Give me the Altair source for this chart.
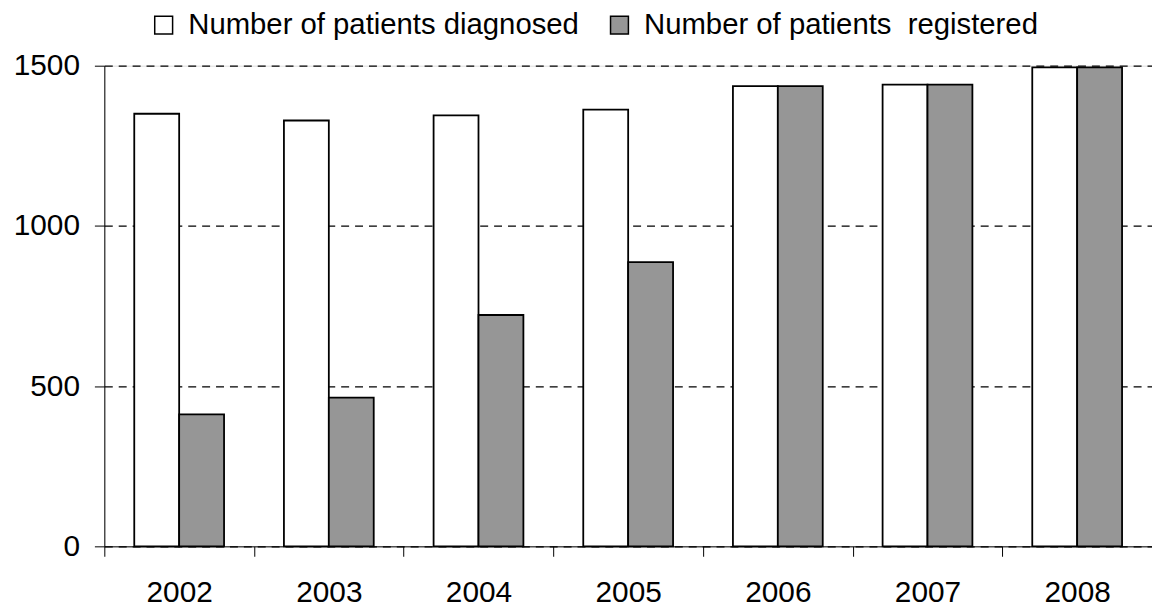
import altair as alt
import pandas as pd

years = ["2002", "2003", "2004", "2005", "2006", "2007", "2008"]
diagnosed = [1350, 1329, 1345, 1363, 1436, 1441, 1495]
registered = [412, 464, 722, 887, 1436, 1441, 1495]
series_names = ["Number of patients diagnosed", "Number of patients\u00a0 registered"]
y_ticks = [0, 500, 1000, 1500]

rows = []
for i, yr in enumerate(years):
    rows.append({"year": yr, "series": series_names[0], "value": diagnosed[i]})
    rows.append({"year": yr, "series": series_names[1], "value": registered[i]})
df = pd.DataFrame(rows)

W = 1055
H = 484
step = W / 7.0
FONT = "Liberation Sans"

chart = alt.Chart(df).mark_bar(stroke="black", strokeWidth=1.8).encode(
    x=alt.X(
        "year:N",
        sort=years,
        scale=alt.Scale(paddingInner=0.4, paddingOuter=0.2),
        axis=alt.Axis(
            title=None,
            labelAngle=0,
            labelFont=FONT,
            labelFontSize=30,
            labelColor="black",
            labelPadding=22,
            tickSize=10,
            tickColor="black",
            tickOffset=-step / 2,
            labelOffset=step / 2,
            domainColor="black",
            domainWidth=1,
            grid=False,
        ),
    ),
    xOffset=alt.XOffset("series:N", sort=series_names,
                        scale=alt.Scale(paddingInner=0, paddingOuter=0)),
    y=alt.Y(
        "value:Q",
        scale=alt.Scale(domain=[0, 1500], nice=False),
        axis=alt.Axis(
            title=None,
            values=y_ticks,
            format="d",
            labelFont=FONT,
            labelFontSize=30,
            labelColor="black",
            labelPadding=15,
            tickSize=10,
            tickColor="black",
            domainColor="black",
            domainWidth=1,
            grid=True,
            gridColor="black",
            gridDash=[8, 6],
            gridWidth=1.2,
        ),
    ),
    color=alt.Color(
        "series:N",
        sort=series_names,
        scale=alt.Scale(domain=series_names, range=["#ffffff", "#969696"]),
        legend=alt.Legend(
            title=None,
            orient="none",
            direction="horizontal",
            legendX=45,
            legendY=-56,
            padding=0,
            labelFont=FONT,
            labelFontSize=29.5,
            labelColor="black",
            labelLimit=0,
            labelOffset=10,
            columnPadding=25,
            symbolType="square",
            symbolSize=324,
            symbolStrokeColor="black",
            symbolStrokeWidth=1.5,
        ),
    ),
).properties(
    width=W,
    height=H,
    autosize=alt.AutoSizeParams(type="none"),
    padding={"left": 97, "top": 56, "right": 0, "bottom": 61},
).configure_view(strokeWidth=0).configure(background="white")

chart.save("out.html", embed_options={"renderer": "svg", "actions": False})
